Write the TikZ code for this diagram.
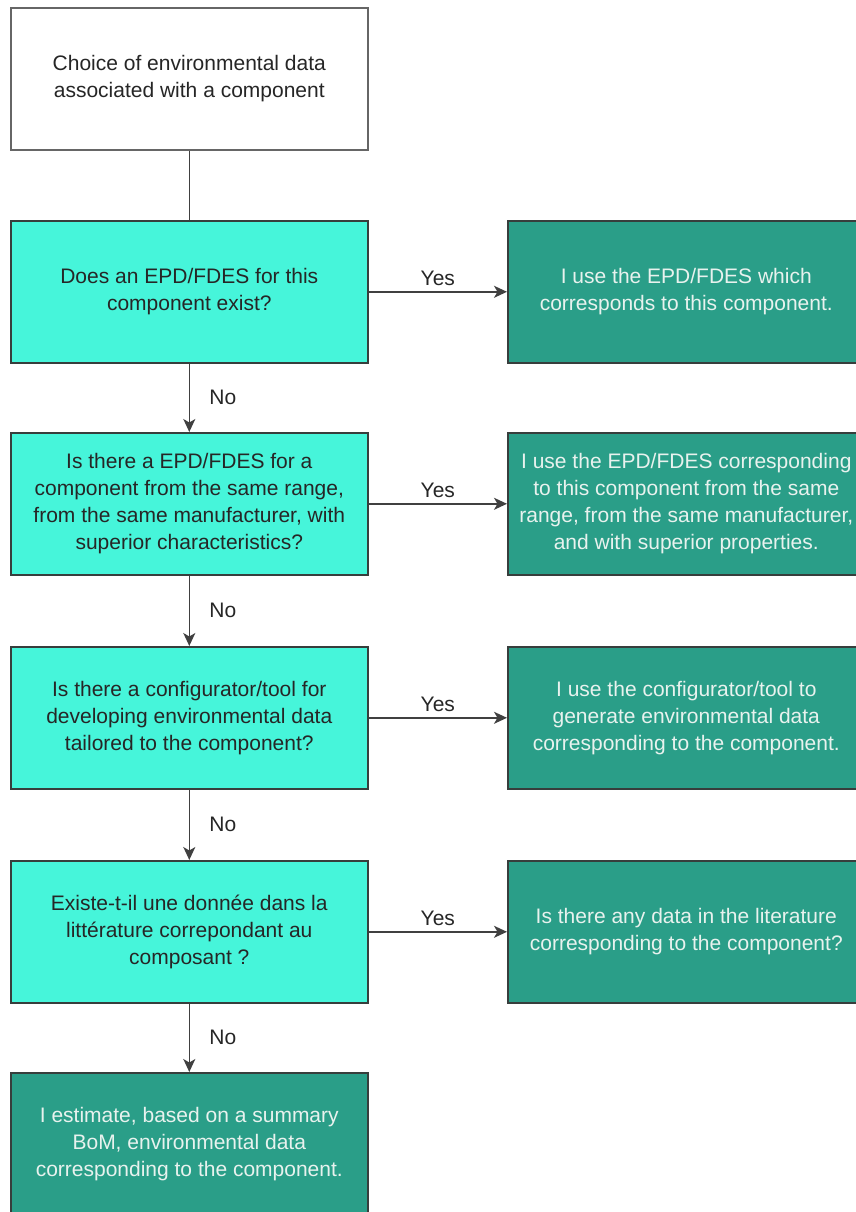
\documentclass[tikz,border=0pt]{standalone}
\usepackage{fontspec}
\setmainfont{Liberation Sans}
\usetikzlibrary{arrows.meta}
\definecolor{askcol}{RGB}{70,245,218}
\definecolor{actcol}{RGB}{42,158,136}
\definecolor{acttext}{RGB}{232,242,238}
\definecolor{edgecol}{RGB}{55,62,60}
\begin{document}
\begin{tikzpicture}[x=1pt,y=-1pt]
    \tikzstyle{line} = [draw=black!75, line width=1.6pt]
    \tikzstyle{arrow} = [line, -{Stealth[length=13pt,width=12pt,inset=3.5pt]}]
    \tikzstyle{rec} = [rectangle, draw=edgecol, line width=1.6pt, align=center,
        minimum width=357pt, minimum height=142pt, inner sep=0pt,
        font=\fontsize{21}{27}\selectfont]
    \tikzstyle{ask} = [rec, fill=askcol, text=black!85]
    \tikzstyle{act} = [rec, fill=actcol, text=acttext]
    \tikzstyle{lbl} = [font=\fontsize{21}{27}\selectfont, text=black!85]

    \useasboundingbox (0,0) rectangle (856,1212);
    \clip (0,0) rectangle (856,1212);

    \node(start) [rec, draw=black!60, fill=white, text=black!85]
        at (10,7) [anchor=north west]
        {Choice of environmental data\\associated with a component};

    \node(epd) [ask]
        at (10,220) [anchor=north west]
        {Does an EPD/FDES for this\\component exist?};

    \node(useepd) [act]
        at (507,220) [anchor=north west]
        {I use the EPD/FDES which\\corresponds to this component.};

    \node(range) [ask]
        at (10,432) [anchor=north west]
        {Is there a EPD/FDES for a\\component from the same range,\\from the same manufacturer, with\\superior characteristics?};

    \node(userange) [act]
        at (507,432) [anchor=north west]
        {I use the EPD/FDES corresponding\\to this component from the same\\range, from the same manufacturer,\\and with superior properties.};

    \node(tool) [ask]
        at (10,646) [anchor=north west]
        {Is there a configurator/tool for\\developing environmental data\\tailored to the component?};

    \node(usetool) [act]
        at (507,646) [anchor=north west]
        {I use the configurator/tool to\\generate environmental data\\corresponding to the component.};

    \node(lit) [ask]
        at (10,860) [anchor=north west]
        {Existe-t-il une donnée dans la\\littérature correpondant au\\composant ?};

    \node(uselit) [act]
        at (507,860) [anchor=north west]
        {Is there any data in the literature\\corresponding to the component?};

    \node(bom) [act]
        at (10,1072) [anchor=north west]
        {I estimate, based on a summary\\BoM, environmental data\\corresponding to the component.};

    \draw[line] (start) -- (epd);
    \draw[arrow] (epd) -- node[lbl,above=2pt] {Yes} (useepd);
    \draw[arrow] (epd) -- node[lbl,right=16pt] {No} (range);
    \draw[arrow] (range) -- node[lbl,above=2pt] {Yes} (userange);
    \draw[arrow] (range) -- node[lbl,right=16pt] {No} (tool);
    \draw[arrow] (tool) -- node[lbl,above=2pt] {Yes} (usetool);
    \draw[arrow] (tool) -- node[lbl,right=16pt] {No} (lit);
    \draw[arrow] (lit) -- node[lbl,above=2pt] {Yes} (uselit);
    \draw[arrow] (lit) -- node[lbl,right=16pt] {No} (bom);
\end{tikzpicture}
\end{document}
